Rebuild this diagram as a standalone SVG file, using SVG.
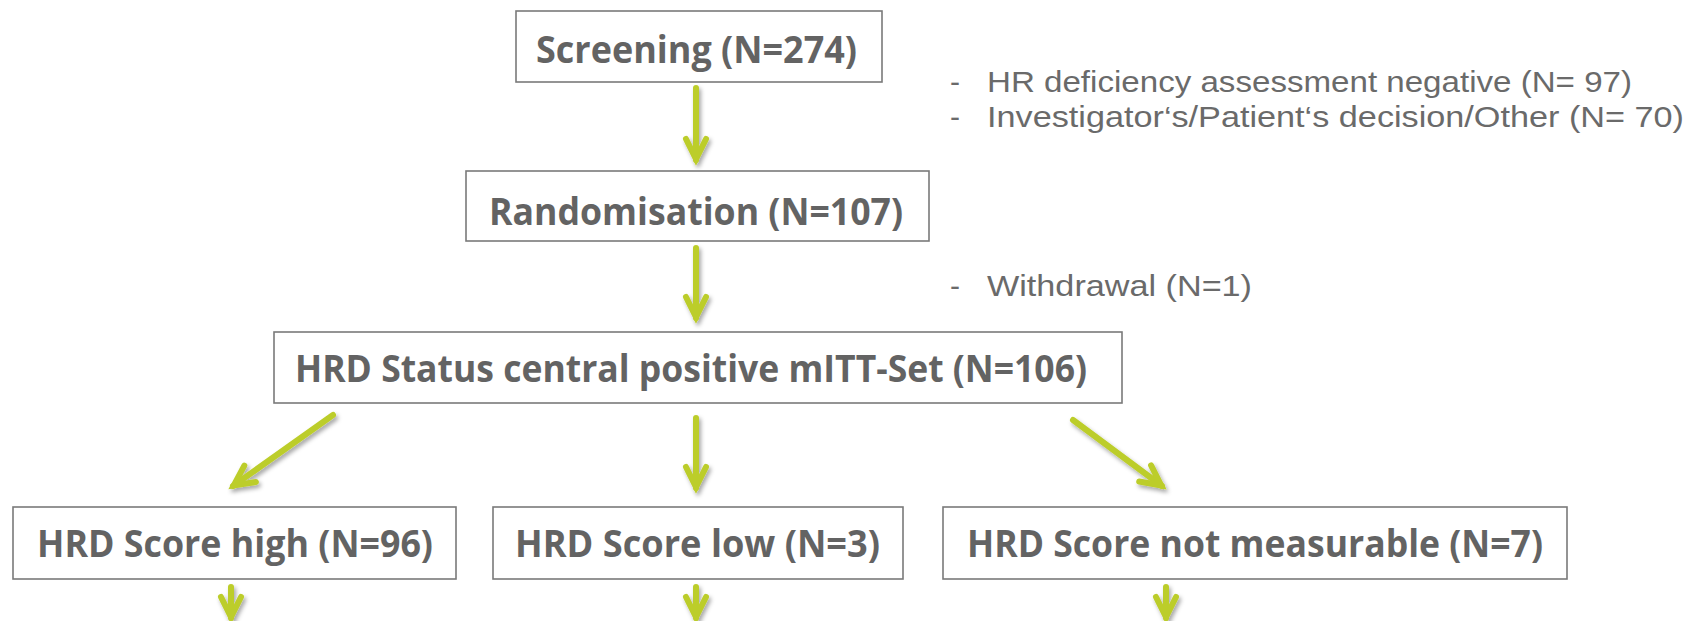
<svg xmlns="http://www.w3.org/2000/svg" width="1691" height="621" viewBox="0 0 1691 621">
<style>
.box{fill:#fff;stroke:#7a7a7a;stroke-width:1.6}
.bt{font-family:"Open Sans","Liberation Sans",sans-serif;font-weight:bold;font-size:38px;fill:#636363}
.st{font-family:"Liberation Sans","Open Sans",sans-serif;font-size:30px;fill:#6a6a6a}
.arr{fill:none;stroke:#bccd2a;stroke-width:6;stroke-linecap:round;stroke-linejoin:miter}
</style>
<defs>
<filter id="sh" x="-50%" y="-50%" width="200%" height="200%">
<feDropShadow dx="2" dy="3" stdDeviation="2" flood-color="#000" flood-opacity="0.35"/>
</filter>
<marker id="head" markerUnits="userSpaceOnUse" markerWidth="60" markerHeight="60" viewBox="-30 -30 60 60" refX="0" refY="0" orient="auto" overflow="visible">
<path d="M-21,-10 L-1,0 L-21,10" fill="none" stroke="#bccd2a" stroke-width="6" stroke-linecap="round" stroke-linejoin="miter"/>
</marker>
</defs>
<rect width="1691" height="621" fill="#fff"/>
<g id="connectors" filter="url(#sh)">
<line class="arr" x1="696" y1="88" x2="696" y2="160" marker-end="url(#head)"/>
<line class="arr" x1="696" y1="248" x2="696" y2="318" marker-end="url(#head)"/>
<line class="arr" x1="333" y1="415" x2="233" y2="486" marker-end="url(#head)"/>
<line class="arr" x1="696" y1="418" x2="696" y2="488" marker-end="url(#head)"/>
<line class="arr" x1="1073" y1="420" x2="1162" y2="486" marker-end="url(#head)"/>
<line class="arr" x1="231" y1="587" x2="231" y2="618" marker-end="url(#head)"/>
<line class="arr" x1="696" y1="587" x2="696" y2="618" marker-end="url(#head)"/>
<line class="arr" x1="1166" y1="587" x2="1166" y2="618" marker-end="url(#head)"/>
</g>
<g id="screening">
<rect class="box" x="516" y="11" width="366" height="71"/>
<text class="bt" x="536" y="63" textLength="321" lengthAdjust="spacingAndGlyphs">Screening (N=274)</text>
</g>
<g id="randomisation">
<rect class="box" x="466" y="171" width="463" height="70"/>
<text class="bt" x="489" y="225" textLength="414" lengthAdjust="spacingAndGlyphs">Randomisation (N=107)</text>
</g>
<g id="mitt">
<rect class="box" x="274" y="332" width="848" height="71"/>
<text class="bt" x="295" y="382" textLength="792" lengthAdjust="spacingAndGlyphs">HRD Status central positive mITT-Set (N=106)</text>
</g>
<g id="high">
<rect class="box" x="13" y="507" width="443" height="72"/>
<text class="bt" x="37" y="557" textLength="396" lengthAdjust="spacingAndGlyphs">HRD Score high (N=96)</text>
</g>
<g id="low">
<rect class="box" x="493" y="507" width="410" height="72"/>
<text class="bt" x="515" y="557" textLength="365" lengthAdjust="spacingAndGlyphs">HRD Score low (N=3)</text>
</g>
<g id="notmeasurable">
<rect class="box" x="943" y="507" width="624" height="72"/>
<text class="bt" x="967" y="557" textLength="576" lengthAdjust="spacingAndGlyphs">HRD Score not measurable (N=7)</text>
</g>
<g id="exclusions1">
<text class="st" x="950" y="92">-</text>
<text class="st" x="987" y="92" textLength="645" lengthAdjust="spacingAndGlyphs">HR deficiency assessment negative (N= 97)</text>
<text class="st" x="950" y="127">-</text>
<text class="st" x="987" y="127" textLength="697" lengthAdjust="spacingAndGlyphs">Investigator‘s/Patient‘s decision/Other (N= 70)</text>
</g>
<g id="exclusions2">
<text class="st" x="950" y="296">-</text>
<text class="st" x="987" y="296" textLength="265" lengthAdjust="spacingAndGlyphs">Withdrawal (N=1)</text>
</g>
</svg>
